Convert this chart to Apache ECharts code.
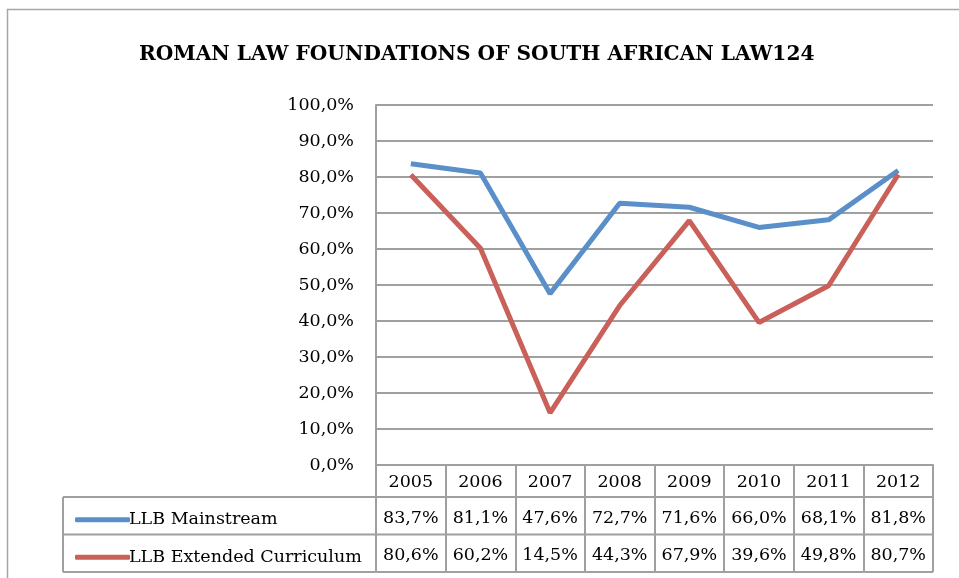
<!DOCTYPE html>
<html>
<head>
<meta charset="utf-8">
<script src="https://cdn.jsdelivr.net/npm/echarts@6/dist/echarts.min.js"></script>
<style>
  html, body { margin: 0; padding: 0; background: #fff; }
  #chart { width: 959px; height: 578px; }
</style>
</head>
<body>
<div id="chart"></div>
<script>
var years = ['2005', '2006', '2007', '2008', '2009', '2010', '2011', '2012']
var mainstream = [83.7, 81.1, 47.6, 72.7, 71.6, 66.0, 68.1, 81.8]
var extended = [80.6, 60.2, 14.5, 44.3, 67.9, 39.6, 49.8, 80.7]
var seriesNames = ['LLB Mainstream', 'LLB Extended Curriculum']

var FONT = 'DejaVu Serif'
var GRID_COLOR = '#a0a0a0'
var W = 959
var H = 578
// plot area / data table geometry
var plotLeft = 376
var plotRight = 933
var plotTop = 105
var plotBottom = 465
var tableLeft = 63
var headerH = 32
var rowH = 37.5

function pct(v) {
  return v.toFixed(1).replace('.', ',') + '%'
}

var rowLines = [plotBottom + headerH, plotBottom + headerH + rowH, plotBottom + headerH + rowH * 2]
var tableBottom = rowLines[2]

var graphics = [
  // outer chart border (left and top visible)
  { type: 'polyline', shape: { points: [[7.5, H + 2], [7.5, 9.5], [W + 2, 9.5]] },
    style: { stroke: '#a6a6a6', lineWidth: 1.5, fill: null }, silent: true },
  // legend column left border
  { type: 'line', shape: { x1: tableLeft, y1: rowLines[0], x2: tableLeft, y2: tableBottom },
    style: { stroke: GRID_COLOR, lineWidth: 2 }, silent: true }
]
rowLines.forEach(function(y) {
  graphics.push({ type: 'line', shape: { x1: tableLeft, y1: y, x2: plotRight, y2: y },
    style: { stroke: GRID_COLOR, lineWidth: 2 }, silent: true })
})

// one legend per table row
var legends = seriesNames.map(function(name, i) {
  return {
    left: 70,
    top: rowLines[i] + rowH / 2 - 10,
    itemWidth: 55,
    itemHeight: 5,
    icon: 'roundRect',
    data: [name],
    textStyle: { fontFamily: FONT, fontSize: 17.5, color: '#000', padding: [0, 0, 0, -6] }
  }
})

var chart = echarts.init(document.getElementById('chart'))
chart.setOption({
  backgroundColor: '#fff',
  animation: false,
  title: {
    text: 'ROMAN LAW FOUNDATIONS OF SOUTH AFRICAN LAW124',
    left: 134,
    top: 40,
    textStyle: { fontFamily: FONT, fontWeight: 'bold', fontSize: 20.2, color: '#000' }
  },
  legend: legends,
  grid: {
    left: plotLeft,
    right: W - plotRight,
    top: plotTop,
    bottom: H - plotBottom,
    outerBoundsMode: 'none'
  },
  xAxis: {
    type: 'category',
    data: years,
    boundaryGap: true,
    axisLine: { lineStyle: { color: GRID_COLOR, width: 2 } },
    axisTick: { show: true, interval: 0, length: tableBottom - plotBottom, lineStyle: { color: GRID_COLOR, width: 2 } },
    axisLabel: {
      interval: 0,
      margin: -1,
      fontFamily: FONT,
      fontSize: 17.5,
      color: '#000',
      lineHeight: 36.5,
      formatter: function(v, i) {
        return v + '\n' + pct(mainstream[i]) + '\n' + pct(extended[i])
      }
    }
  },
  yAxis: {
    type: 'value',
    min: 0,
    max: 100,
    interval: 10,
    axisLine: { show: true, lineStyle: { color: GRID_COLOR, width: 2 } },
    axisTick: { show: false },
    splitLine: { lineStyle: { color: GRID_COLOR, width: 2 } },
    axisLabel: {
      margin: 22,
      fontFamily: FONT,
      fontSize: 17.5,
      color: '#000',
      formatter: pct
    }
  },
  series: [
    { name: seriesNames[0], type: 'line', data: mainstream, symbol: 'none',
      lineStyle: { width: 5, color: '#5B8FCA' }, itemStyle: { color: '#5B8FCA' } },
    { name: seriesNames[1], type: 'line', data: extended, symbol: 'none',
      lineStyle: { width: 5, color: '#C9605A' }, itemStyle: { color: '#C9605A' } }
  ],
  graphic: graphics
})
</script>
</body>
</html>
